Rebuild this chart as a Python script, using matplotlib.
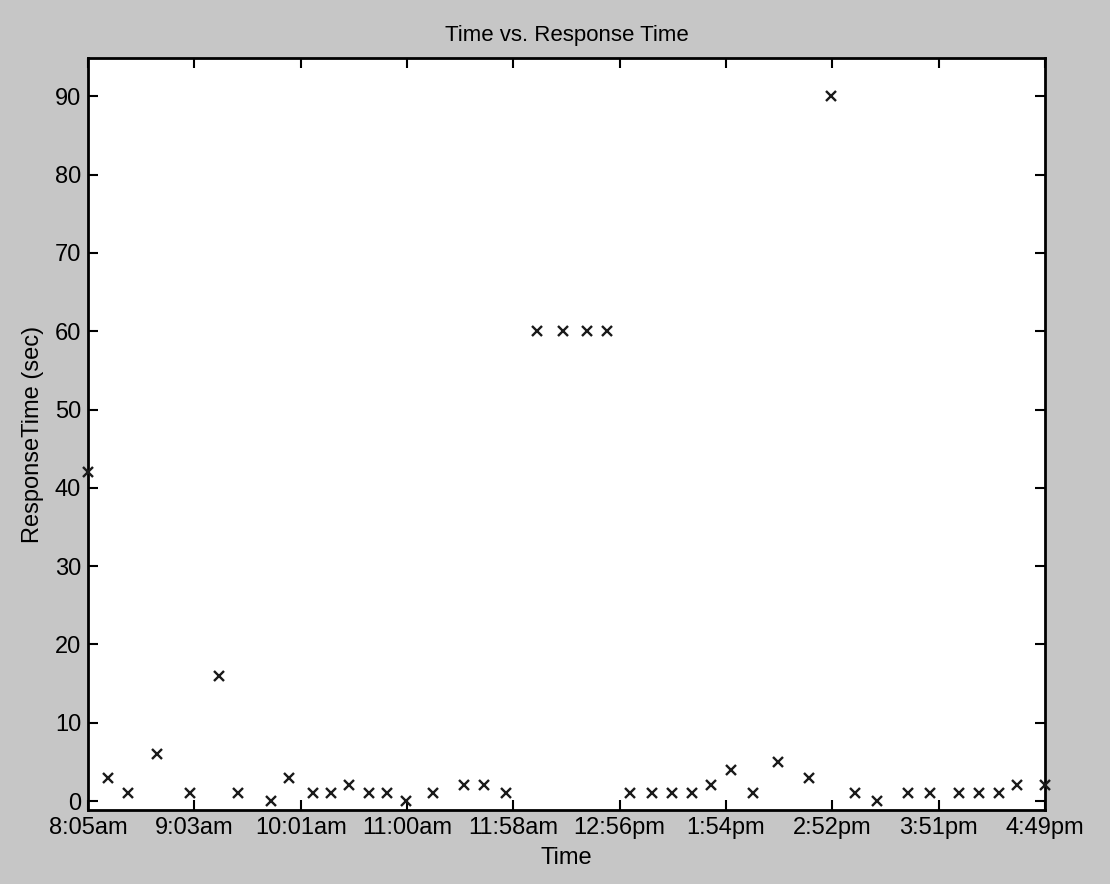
import numpy as np
import matplotlib
matplotlib.use('Agg')
import matplotlib.pyplot as plt

# %% Data
# time of each request (24h clock) and its response time (sec)
times = ['8:05', '8:16', '8:27', '8:43', '9:01', '9:17', '9:27', '9:45', '9:55',
         '10:08', '10:18', '10:28', '10:39', '10:49', '10:59', '11:14', '11:31',
         '11:42', '11:54', '12:11', '12:25', '12:38', '12:49', '13:02', '13:14',
         '13:25', '13:36', '13:46', '13:57', '14:09', '14:23', '14:40', '14:52',
         '15:05', '15:17', '15:34', '15:46', '16:02', '16:13', '16:24', '16:34',
         '16:49']
response = [42, 3, 1, 6, 1, 16, 1, 0, 3,
            1, 1, 2, 1, 1, 0, 1, 2,
            2, 1, 60, 60, 60, 60, 1, 1,
            1, 1, 2, 4, 1, 5, 3, 90,
            1, 0, 1, 1, 1, 1, 1, 2,
            2]
tick_labels = ['8:05am', '9:03am', '10:01am', '11:00am', '11:58am',
               '12:56pm', '1:54pm', '2:52pm', '3:51pm', '4:49pm']
y_ticks = list(range(0, 100, 10))

# minutes after midnight
minutes = np.array([int(t.split(':')[0]) * 60 + int(t.split(':')[1]) for t in times])

# %% plotting
plt.rcParams['font.family'] = ['Liberation Sans', 'DejaVu Sans']
fig = plt.figure(figsize=(11.1, 8.84), dpi=100, facecolor='#c6c6c6')
ax = fig.add_axes([0.0793, 0.0837, 0.862, 0.8507])
ax.set_facecolor('white')

ax.plot(minutes, response, linestyle='none', marker='x', markersize=7,
        markeredgewidth=1.7, color='#1a1a1a', clip_on=False, zorder=3)

ax.set_xlim(minutes[0], minutes[-1])
ax.set_ylim(-1.15, 94.9)
ax.set_xticks(np.linspace(minutes[0], minutes[-1], len(tick_labels)))
ax.set_xticklabels(tick_labels)
ax.set_yticks(y_ticks)

ax.tick_params(direction='in', length=7.5, width=1.5, top=True, right=True,
               labelsize=17, pad=5, colors='black')
for s in ax.spines.values():
    s.set_linewidth(2)
    s.set_color('black')

ax.set_title('Time vs. Response Time', fontsize=16, pad=12)
ax.set_xlabel('Time', fontsize=17, labelpad=6)
ax.set_ylabel('ResponseTime (sec)', fontsize=17, labelpad=8)

fig.savefig('out.png', dpi=100, facecolor=fig.get_facecolor())
